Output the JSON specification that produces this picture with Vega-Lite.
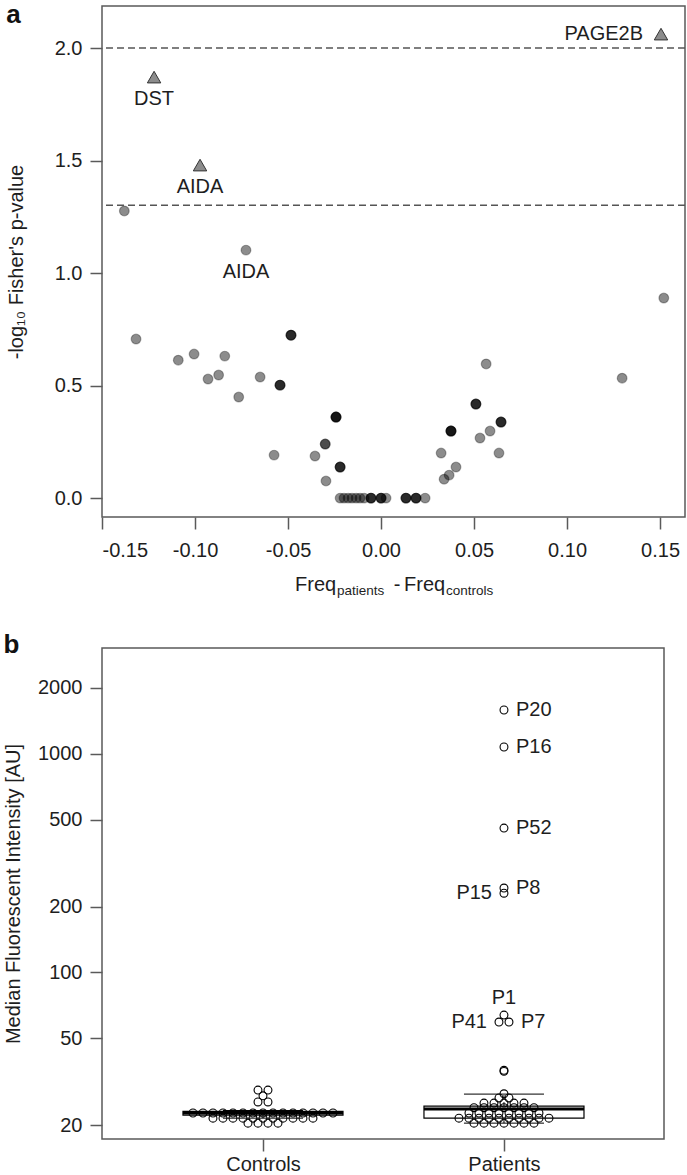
{
  "$schema": "https://vega.github.io/schema/vega-lite/v6.json",
  "padding": {"left": 2, "top": 1, "right": 3, "bottom": 0},
  "background": "white",
  "spacing": 32,
  "config": {
    "font": "Liberation Sans",
    "view": {"stroke": "#5a5a5a", "strokeWidth": 1.5},
    "axis": {"grid": false, "domain": false, "tickColor": "#5a5a5a", "tickWidth": 1.5, "tickSize": 12, "labelFontSize": 20, "labelColor": "#1e1e1e", "labelPadding": 6, "titleFontSize": 20, "titleFontWeight": "normal", "titleColor": "#1e1e1e"},
    "text": {"fontSize": 20, "color": "#1e1e1e"},
    "title": {"fontSize": 26, "fontWeight": "bold", "anchor": "start", "frame": "bounds", "color": "#111111"}
  },
  "datasets": {
    "thresholds": [{"p_cutoff": 0.01, "logp": 2.0}, {"p_cutoff": 0.05, "logp": 1.30103}],
    "variants": [
      {"diff": -0.122, "logp": 1.871, "shape": "triangle", "gene": "DST"},
      {"diff": -0.0973, "logp": 1.48, "shape": "triangle", "gene": "AIDA"},
      {"diff": 0.1505, "logp": 2.062, "shape": "triangle", "gene": "PAGE2B"},
      {"diff": -0.138, "logp": 1.276, "shape": "circle"},
      {"diff": -0.0726, "logp": 1.102, "shape": "circle", "gene": "AIDA"},
      {"diff": -0.1317, "logp": 0.707, "shape": "circle"},
      {"diff": -0.109, "logp": 0.613, "shape": "circle"},
      {"diff": -0.1005, "logp": 0.64, "shape": "circle"},
      {"diff": -0.084, "logp": 0.631, "shape": "circle"},
      {"diff": -0.093, "logp": 0.529, "shape": "circle"},
      {"diff": -0.0873, "logp": 0.547, "shape": "circle"},
      {"diff": -0.0765, "logp": 0.449, "shape": "circle"},
      {"diff": -0.065, "logp": 0.538, "shape": "circle"},
      {"diff": -0.0484, "logp": 0.724, "shape": "circle"},
      {"diff": -0.0484, "logp": 0.724, "shape": "circle"},
      {"diff": -0.0484, "logp": 0.724, "shape": "circle"},
      {"diff": -0.0543, "logp": 0.502, "shape": "circle"},
      {"diff": -0.0543, "logp": 0.502, "shape": "circle"},
      {"diff": -0.0543, "logp": 0.502, "shape": "circle"},
      {"diff": -0.0575, "logp": 0.191, "shape": "circle"},
      {"diff": -0.0355, "logp": 0.187, "shape": "circle"},
      {"diff": -0.03, "logp": 0.24, "shape": "circle"},
      {"diff": -0.03, "logp": 0.24, "shape": "circle"},
      {"diff": -0.0242, "logp": 0.36, "shape": "circle"},
      {"diff": -0.0242, "logp": 0.36, "shape": "circle"},
      {"diff": -0.0242, "logp": 0.36, "shape": "circle"},
      {"diff": -0.0242, "logp": 0.36, "shape": "circle"},
      {"diff": -0.0296, "logp": 0.076, "shape": "circle"},
      {"diff": -0.022, "logp": 0.138, "shape": "circle"},
      {"diff": -0.022, "logp": 0.138, "shape": "circle"},
      {"diff": -0.022, "logp": 0.138, "shape": "circle"},
      {"diff": -0.022, "logp": 0, "shape": "circle"},
      {"diff": -0.0199, "logp": 0, "shape": "circle"},
      {"diff": -0.0177, "logp": 0, "shape": "circle"},
      {"diff": -0.0156, "logp": 0, "shape": "circle"},
      {"diff": -0.0134, "logp": 0, "shape": "circle"},
      {"diff": -0.0113, "logp": 0, "shape": "circle"},
      {"diff": -0.0091, "logp": 0, "shape": "circle"},
      {"diff": -0.0054, "logp": 0, "shape": "circle"},
      {"diff": -0.0054, "logp": 0, "shape": "circle"},
      {"diff": -0.0054, "logp": 0, "shape": "circle"},
      {"diff": 0, "logp": 0, "shape": "circle"},
      {"diff": 0, "logp": 0, "shape": "circle"},
      {"diff": 0, "logp": 0, "shape": "circle"},
      {"diff": 0.0027, "logp": 0, "shape": "circle"},
      {"diff": 0.0134, "logp": 0, "shape": "circle"},
      {"diff": 0.0134, "logp": 0, "shape": "circle"},
      {"diff": 0.0134, "logp": 0, "shape": "circle"},
      {"diff": 0.0188, "logp": 0, "shape": "circle"},
      {"diff": 0.0188, "logp": 0, "shape": "circle"},
      {"diff": 0.0188, "logp": 0, "shape": "circle"},
      {"diff": 0.0237, "logp": 0, "shape": "circle"},
      {"diff": 0.152, "logp": 0.889, "shape": "circle"},
      {"diff": 0.1296, "logp": 0.533, "shape": "circle"},
      {"diff": 0.0565, "logp": 0.596, "shape": "circle"},
      {"diff": 0.051, "logp": 0.418, "shape": "circle"},
      {"diff": 0.051, "logp": 0.418, "shape": "circle"},
      {"diff": 0.051, "logp": 0.418, "shape": "circle"},
      {"diff": 0.0645, "logp": 0.338, "shape": "circle"},
      {"diff": 0.0645, "logp": 0.338, "shape": "circle"},
      {"diff": 0.0645, "logp": 0.338, "shape": "circle"},
      {"diff": 0.0586, "logp": 0.298, "shape": "circle"},
      {"diff": 0.0532, "logp": 0.267, "shape": "circle"},
      {"diff": 0.0634, "logp": 0.2, "shape": "circle"},
      {"diff": 0.0376, "logp": 0.298, "shape": "circle"},
      {"diff": 0.0376, "logp": 0.298, "shape": "circle"},
      {"diff": 0.0376, "logp": 0.298, "shape": "circle"},
      {"diff": 0.0376, "logp": 0.298, "shape": "circle"},
      {"diff": 0.0323, "logp": 0.2, "shape": "circle"},
      {"diff": 0.0403, "logp": 0.138, "shape": "circle"},
      {"diff": 0.0366, "logp": 0.102, "shape": "circle"},
      {"diff": 0.0339, "logp": 0.084, "shape": "circle"}
    ],
    "boxes": [
      {"group": "Controls", "lower": 21.5, "q1": 22.2, "median": 22.7, "q3": 23.1, "upper": 23.3},
      {"group": "Patients", "lower": 20.4, "q1": 21.5, "median": 23.7, "q3": 24.4, "upper": 27.7}
    ],
    "mfi": [
      {"group": "Controls", "mfi": 28.9}, {"group": "Controls", "mfi": 28.9},
      {"group": "Controls", "mfi": 27.2},
      {"group": "Controls", "mfi": 25.5}, {"group": "Controls", "mfi": 25.5},
      {"group": "Controls", "mfi": 22.7}, {"group": "Controls", "mfi": 22.7}, {"group": "Controls", "mfi": 22.7},
      {"group": "Controls", "mfi": 22.7}, {"group": "Controls", "mfi": 22.7}, {"group": "Controls", "mfi": 22.7},
      {"group": "Controls", "mfi": 22.7}, {"group": "Controls", "mfi": 22.7}, {"group": "Controls", "mfi": 22.7},
      {"group": "Controls", "mfi": 22.7}, {"group": "Controls", "mfi": 22.7}, {"group": "Controls", "mfi": 22.7},
      {"group": "Controls", "mfi": 22.7}, {"group": "Controls", "mfi": 22.7}, {"group": "Controls", "mfi": 22.7},
      {"group": "Controls", "mfi": 21.5}, {"group": "Controls", "mfi": 21.5}, {"group": "Controls", "mfi": 21.5},
      {"group": "Controls", "mfi": 21.5}, {"group": "Controls", "mfi": 21.5}, {"group": "Controls", "mfi": 21.5},
      {"group": "Controls", "mfi": 21.5}, {"group": "Controls", "mfi": 21.5}, {"group": "Controls", "mfi": 21.5},
      {"group": "Controls", "mfi": 21.5}, {"group": "Controls", "mfi": 21.5},
      {"group": "Controls", "mfi": 20.4}, {"group": "Controls", "mfi": 20.4}, {"group": "Controls", "mfi": 20.4},
      {"group": "Controls", "mfi": 20.4},
      {"group": "Patients", "mfi": 27.8},
      {"group": "Patients", "mfi": 26.6}, {"group": "Patients", "mfi": 26.6},
      {"group": "Patients", "mfi": 25.2}, {"group": "Patients", "mfi": 25.2}, {"group": "Patients", "mfi": 25.2},
      {"group": "Patients", "mfi": 25.2}, {"group": "Patients", "mfi": 25.2},
      {"group": "Patients", "mfi": 24.0}, {"group": "Patients", "mfi": 24.0}, {"group": "Patients", "mfi": 24.0},
      {"group": "Patients", "mfi": 24.0}, {"group": "Patients", "mfi": 24.0}, {"group": "Patients", "mfi": 24.0},
      {"group": "Patients", "mfi": 24.0},
      {"group": "Patients", "mfi": 22.7}, {"group": "Patients", "mfi": 22.7}, {"group": "Patients", "mfi": 22.7},
      {"group": "Patients", "mfi": 22.7}, {"group": "Patients", "mfi": 22.7}, {"group": "Patients", "mfi": 22.7},
      {"group": "Patients", "mfi": 22.7}, {"group": "Patients", "mfi": 22.7},
      {"group": "Patients", "mfi": 21.5}, {"group": "Patients", "mfi": 21.5}, {"group": "Patients", "mfi": 21.5},
      {"group": "Patients", "mfi": 21.5}, {"group": "Patients", "mfi": 21.5}, {"group": "Patients", "mfi": 21.5},
      {"group": "Patients", "mfi": 21.5}, {"group": "Patients", "mfi": 21.5}, {"group": "Patients", "mfi": 21.5},
      {"group": "Patients", "mfi": 21.5},
      {"group": "Patients", "mfi": 20.4}, {"group": "Patients", "mfi": 20.4}, {"group": "Patients", "mfi": 20.4},
      {"group": "Patients", "mfi": 20.4}, {"group": "Patients", "mfi": 20.4}, {"group": "Patients", "mfi": 20.4},
      {"group": "Patients", "mfi": 20.4},
      {"group": "Patients", "mfi": 35.2}, {"group": "Patients", "mfi": 35.6},
      {"group": "Patients", "mfi": 59.2, "label": "P41"},
      {"group": "Patients", "mfi": 63.7, "label": "P1"},
      {"group": "Patients", "mfi": 59.2, "label": "P7"},
      {"group": "Patients", "mfi": 230, "label": "P15"},
      {"group": "Patients", "mfi": 243, "label": "P8"},
      {"group": "Patients", "mfi": 457, "label": "P52"},
      {"group": "Patients", "mfi": 1074, "label": "P16"},
      {"group": "Patients", "mfi": 1586, "label": "P20"}
    ]
  },
  "vconcat": [
    {
      "width": 583,
      "height": 511,
      "title": {"text": "a", "offset": -22},
      "layer": [
        {
          "data": {"name": "variants"},
          "transform": [{"filter": "datum.shape === 'circle'"}],
          "mark": {"type": "circle", "size": 95, "fill": "#000000", "fillOpacity": 0.45, "stroke": "#000000", "strokeOpacity": 0.3, "strokeWidth": 1.2},
          "encoding": {
            "x": {"field": "diff", "type": "quantitative", "scale": {"domain": [-0.15, 0.1634], "nice": false, "zero": false},
                  "axis": {"title": null, "values": [-0.15, -0.1, -0.05, 0, 0.05, 0.1, 0.15], "labelExpr": "replace(format(datum.value, '.2f'), '\u2212', '-')", "labelPadding": 11}},
            "y": {"field": "logp", "type": "quantitative", "scale": {"domain": [-0.084, 2.187], "nice": false, "zero": false},
                  "axis": {"title": "-log\u2081\u2080 Fisher's p-value", "values": [0, 0.5, 1, 1.5, 2], "format": ".1f", "titlePadding": 28, "labelPadding": 8}}
          }
        },
        {
          "data": {"name": "thresholds"},
          "mark": {"type": "rule", "strokeDash": [7, 4], "color": "#555555", "strokeWidth": 1.5},
          "encoding": {
            "y": {"field": "logp", "type": "quantitative", "scale": {"domain": [-0.084, 2.187], "nice": false, "zero": false}}
          }
        },
        {
          "data": {"name": "variants"},
          "transform": [{"filter": "datum.shape === 'triangle'"}],
          "mark": {"type": "point", "shape": "triangle-up", "size": 180, "filled": true, "fill": "#8c8c8c", "stroke": "#333333", "strokeWidth": 1, "opacity": 1},
          "encoding": {
            "x": {"field": "diff", "type": "quantitative", "scale": {"domain": [-0.15, 0.1634], "nice": false, "zero": false}},
            "y": {"field": "logp", "type": "quantitative", "scale": {"domain": [-0.084, 2.187], "nice": false, "zero": false}}
          }
        },
        {
          "data": {"name": "variants"},
          "transform": [{"filter": "datum.gene === 'DST' || datum.gene === 'AIDA'"}],
          "mark": {"type": "text", "dy": 22, "align": "center", "baseline": "middle", "fontSize": 20},
          "encoding": {
            "x": {"field": "diff", "type": "quantitative", "scale": {"domain": [-0.15, 0.1634], "nice": false, "zero": false}},
            "y": {"field": "logp", "type": "quantitative", "scale": {"domain": [-0.084, 2.187], "nice": false, "zero": false}},
            "text": {"field": "gene"}
          }
        },
        {
          "data": {"name": "variants"},
          "transform": [{"filter": "datum.gene === 'PAGE2B'"}],
          "mark": {"type": "text", "dx": -18, "align": "right", "baseline": "middle", "fontSize": 20},
          "encoding": {
            "x": {"field": "diff", "type": "quantitative", "scale": {"domain": [-0.15, 0.1634], "nice": false, "zero": false}},
            "y": {"field": "logp", "type": "quantitative", "scale": {"domain": [-0.084, 2.187], "nice": false, "zero": false}},
            "text": {"field": "gene"}
          }
        },
        {
          "data": {"values": [{}]},
          "mark": {"type": "text", "text": "Freq", "align": "left", "baseline": "alphabetic", "fontSize": 20},
          "encoding": {
            "x": {"datum": -0.04624, "type": "quantitative", "scale": {"domain": [-0.15, 0.1634], "nice": false, "zero": false}},
            "y": {"datum": -0.4133, "type": "quantitative", "scale": {"domain": [-0.084, 2.187], "nice": false, "zero": false}}
          }
        },
        {
          "data": {"values": [{}]},
          "mark": {"type": "text", "text": "patients", "align": "left", "baseline": "alphabetic", "fontSize": 13.5},
          "encoding": {
            "x": {"datum": -0.02366, "type": "quantitative", "scale": {"domain": [-0.15, 0.1634], "nice": false, "zero": false}},
            "y": {"datum": -0.4311, "type": "quantitative", "scale": {"domain": [-0.084, 2.187], "nice": false, "zero": false}}
          }
        },
        {
          "data": {"values": [{}]},
          "mark": {"type": "text", "text": "-", "align": "center", "baseline": "alphabetic", "fontSize": 20},
          "encoding": {
            "x": {"datum": 0.0086, "type": "quantitative", "scale": {"domain": [-0.15, 0.1634], "nice": false, "zero": false}},
            "y": {"datum": -0.4133, "type": "quantitative", "scale": {"domain": [-0.084, 2.187], "nice": false, "zero": false}}
          }
        },
        {
          "data": {"values": [{}]},
          "mark": {"type": "text", "text": "Freq", "align": "left", "baseline": "alphabetic", "fontSize": 20},
          "encoding": {
            "x": {"datum": 0.01237, "type": "quantitative", "scale": {"domain": [-0.15, 0.1634], "nice": false, "zero": false}},
            "y": {"datum": -0.4133, "type": "quantitative", "scale": {"domain": [-0.084, 2.187], "nice": false, "zero": false}}
          }
        },
        {
          "data": {"values": [{}]},
          "mark": {"type": "text", "text": "controls", "align": "left", "baseline": "alphabetic", "fontSize": 13.5},
          "encoding": {
            "x": {"datum": 0.03495, "type": "quantitative", "scale": {"domain": [-0.15, 0.1634], "nice": false, "zero": false}},
            "y": {"datum": -0.4311, "type": "quantitative", "scale": {"domain": [-0.084, 2.187], "nice": false, "zero": false}}
          }
        }
      ]
    },
    {
      "width": 562,
      "height": 491,
      "title": {"text": "b", "offset": -10},
      "layer": [
        {
          "data": {"name": "mfi"},
          "transform": [
            {"calculate": "datum.group === 'Controls' ? 1 : 2", "as": "gx"},
            {"window": [{"op": "row_number", "as": "rk"}], "groupby": ["group", "mfi"]},
            {"joinaggregate": [{"op": "count", "as": "cnt"}], "groupby": ["group", "mfi"]},
            {"calculate": "datum.gx + (datum.rk - (datum.cnt + 1) / 2) * 0.0415", "as": "swarm_x"}
          ],
          "mark": {"type": "point", "shape": "circle", "size": 0, "opacity": 0},
          "encoding": {
            "x": {"field": "swarm_x", "type": "quantitative", "scale": {"domain": [0.332, 2.664], "nice": false, "zero": false},
                  "axis": {"title": null, "values": [1, 2], "labelExpr": "datum.value == 1 ? 'Controls' : 'Patients'", "labelPadding": 3}},
            "y": {"field": "mfi", "type": "quantitative", "scale": {"type": "log", "domain": [17.26, 3048], "nice": false},
                  "axis": {"title": "Median Fluorescent Intensity [AU]", "values": [20, 50, 100, 200, 500, 1000, 2000], "format": "d", "titlePadding": 14, "labelPadding": 8}}
          }
        },
        {
          "data": {"name": "boxes"},
          "transform": [
            {"calculate": "datum.group === 'Controls' ? 1 : 2", "as": "gx"},
            {"calculate": "datum.gx - 0.332", "as": "box_left"},
            {"calculate": "datum.gx + 0.332", "as": "box_right"},
            {"calculate": "datum.gx - 0.166", "as": "cap_left"},
            {"calculate": "datum.gx + 0.166", "as": "cap_right"}
          ],
          "layer": [
            {
              "mark": {"type": "rule", "color": "#000000", "strokeWidth": 1, "strokeDash": [4, 3]},
              "encoding": {
                "x": {"field": "gx", "type": "quantitative", "scale": {"domain": [0.332, 2.664], "nice": false, "zero": false}},
                "y": {"field": "q3", "type": "quantitative", "scale": {"type": "log", "domain": [17.26, 3048], "nice": false}},
                "y2": {"field": "upper"}
              }
            },
            {
              "mark": {"type": "rule", "color": "#000000", "strokeWidth": 1, "strokeDash": [4, 3]},
              "encoding": {
                "x": {"field": "gx", "type": "quantitative", "scale": {"domain": [0.332, 2.664], "nice": false, "zero": false}},
                "y": {"field": "lower", "type": "quantitative", "scale": {"type": "log", "domain": [17.26, 3048], "nice": false}},
                "y2": {"field": "q1"}
              }
            },
            {
              "mark": {"type": "rule", "color": "#000000", "strokeWidth": 1},
              "encoding": {
                "x": {"field": "cap_left", "type": "quantitative", "scale": {"domain": [0.332, 2.664], "nice": false, "zero": false}},
                "x2": {"field": "cap_right"},
                "y": {"field": "upper", "type": "quantitative", "scale": {"type": "log", "domain": [17.26, 3048], "nice": false}}
              }
            },
            {
              "mark": {"type": "rule", "color": "#000000", "strokeWidth": 1},
              "encoding": {
                "x": {"field": "cap_left", "type": "quantitative", "scale": {"domain": [0.332, 2.664], "nice": false, "zero": false}},
                "x2": {"field": "cap_right"},
                "y": {"field": "lower", "type": "quantitative", "scale": {"type": "log", "domain": [17.26, 3048], "nice": false}}
              }
            },
            {
              "mark": {"type": "rect", "fill": "#ffffff", "stroke": "#000000", "strokeWidth": 1.2},
              "encoding": {
                "x": {"field": "box_left", "type": "quantitative", "scale": {"domain": [0.332, 2.664], "nice": false, "zero": false}},
                "x2": {"field": "box_right"},
                "y": {"field": "q1", "type": "quantitative", "scale": {"type": "log", "domain": [17.26, 3048], "nice": false}},
                "y2": {"field": "q3"}
              }
            },
            {
              "mark": {"type": "rule", "color": "#000000", "strokeWidth": 3},
              "encoding": {
                "x": {"field": "box_left", "type": "quantitative", "scale": {"domain": [0.332, 2.664], "nice": false, "zero": false}},
                "x2": {"field": "box_right"},
                "y": {"field": "median", "type": "quantitative", "scale": {"type": "log", "domain": [17.26, 3048], "nice": false}}
              }
            }
          ]
        },
        {
          "data": {"name": "mfi"},
          "transform": [
            {"calculate": "datum.group === 'Controls' ? 1 : 2", "as": "gx"},
            {"window": [{"op": "row_number", "as": "rk"}], "groupby": ["group", "mfi"]},
            {"joinaggregate": [{"op": "count", "as": "cnt"}], "groupby": ["group", "mfi"]},
            {"calculate": "datum.gx + (datum.rk - (datum.cnt + 1) / 2) * 0.0415", "as": "swarm_x"}
          ],
          "layer": [
            {
              "mark": {"type": "point", "shape": "circle", "size": 62, "filled": false, "stroke": "#000000", "strokeWidth": 1.1, "opacity": 1},
              "encoding": {
                "x": {"field": "swarm_x", "type": "quantitative", "scale": {"domain": [0.332, 2.664], "nice": false, "zero": false}},
                "y": {"field": "mfi", "type": "quantitative", "scale": {"type": "log", "domain": [17.26, 3048], "nice": false}}
              }
            },
            {
              "transform": [{"filter": "indexof(['P20','P16','P52','P8','P7'], datum.label) >= 0"}],
              "mark": {"type": "text", "align": "left", "baseline": "middle", "dx": 12, "fontSize": 20},
              "encoding": {
                "x": {"field": "swarm_x", "type": "quantitative", "scale": {"domain": [0.332, 2.664], "nice": false, "zero": false}},
                "y": {"field": "mfi", "type": "quantitative", "scale": {"type": "log", "domain": [17.26, 3048], "nice": false}},
                "text": {"field": "label"}
              }
            },
            {
              "transform": [{"filter": "indexof(['P15','P41'], datum.label) >= 0"}],
              "mark": {"type": "text", "align": "right", "baseline": "middle", "dx": -12, "fontSize": 20},
              "encoding": {
                "x": {"field": "swarm_x", "type": "quantitative", "scale": {"domain": [0.332, 2.664], "nice": false, "zero": false}},
                "y": {"field": "mfi", "type": "quantitative", "scale": {"type": "log", "domain": [17.26, 3048], "nice": false}},
                "text": {"field": "label"}
              }
            },
            {
              "transform": [{"filter": "datum.label === 'P1'"}],
              "mark": {"type": "text", "align": "center", "baseline": "middle", "dy": -17, "fontSize": 20},
              "encoding": {
                "x": {"field": "swarm_x", "type": "quantitative", "scale": {"domain": [0.332, 2.664], "nice": false, "zero": false}},
                "y": {"field": "mfi", "type": "quantitative", "scale": {"type": "log", "domain": [17.26, 3048], "nice": false}},
                "text": {"field": "label"}
              }
            }
          ]
        }
      ]
    }
  ]
}
